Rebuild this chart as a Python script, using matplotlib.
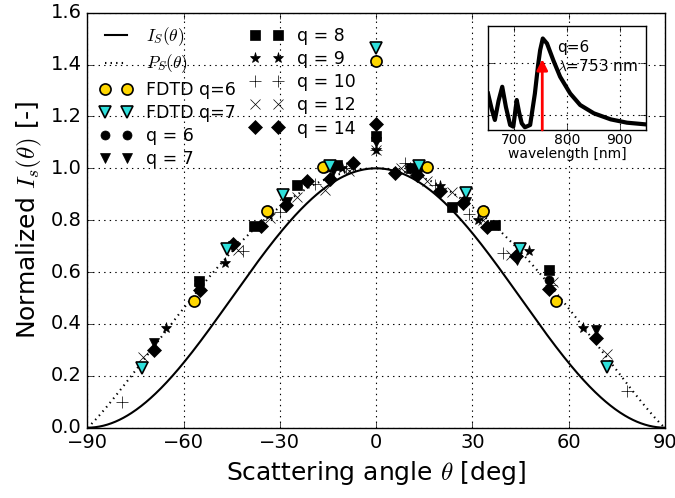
import numpy as np
import matplotlib
matplotlib.use('Agg')
import matplotlib.pyplot as plt
from matplotlib.ticker import FormatStrFormatter

plt.style.use('classic')

# ---- measured points (angle in deg, normalized intensity) ----
fdtd6_th = [-56.9, -34.0, -16.6, 0.0, 15.8, 33.2, 56.0]
fdtd6_v = [0.49, 0.835, 1.005, 1.415, 1.005, 0.835, 0.49]

fdtd7_th = [-73.0, -46.4, -29.0, -14.3, 0.0, 13.3, 27.9, 44.8, 72.0]
fdtd7_v = [0.23, 0.689, 0.899, 1.009, 1.463, 1.009, 0.904, 0.688, 0.233]

q6_th = [-55.3, -33.6, -15.8, 0.0, 15.8, 33.6, 54.0]
q6_v = [0.555, 0.84, 1.0, 1.115, 1.0, 0.84, 0.569]

q7_th = [-69.2, -44.6, -27.9, -13.5, 0.0, 13.5, 27.9, 43.8, 68.4]
q7_v = [0.328, 0.70, 0.87, 0.99, 1.10, 0.985, 0.87, 0.647, 0.377]

q8_th = [-55.3, -38.2, -24.5, -12.2, 0.0, 10.8, 23.6, 37.1, 54.0]
q8_v = [0.565, 0.778, 0.935, 1.013, 1.124, 1.0, 0.852, 0.781, 0.608]

q9_th = [-65.5, -47.0, -33.5, -21.5, -10.6, 0.0, 10.6, 19.9, 31.9, 47.5, 64.6]
q9_v = [0.386, 0.634, 0.82, 0.95, 1.0, 1.07, 1.0, 0.93, 0.80, 0.68, 0.386]

q10_th = [-79.2, -41.5, -30.0, -19.0, -9.4, 0.0, 9.0, 18.4, 28.8, 39.6, 54.6, 78.3]
q10_v = [0.10, 0.681, 0.83, 0.938, 1.0, 1.07, 1.022, 0.936, 0.823, 0.672, 0.55, 0.143]

q12_th = [-72.7, -55.2, -42.9, -33.2, -24.5, -15.9, -8.5, 0.0, 7.9, 15.9,
          23.6, 33.2, 42.0, 55.2, 71.9]
q12_v = [0.274, 0.55, 0.685, 0.81, 0.89, 0.916, 0.99, 1.07, 1.0, 0.95,
         0.91, 0.80, 0.665, 0.56, 0.284]

q14_th = [-69.1, -55.0, -44.7, -35.8, -28.0, -21.4, -14.3, -7.1, 0.0, 5.9,
          12.7, 19.9, 27.2, 34.7, 43.6, 54.0, 68.4]
q14_v = [0.298, 0.53, 0.707, 0.778, 0.86, 0.951, 0.958, 1.019, 1.171, 0.983,
         0.974, 0.912, 0.865, 0.773, 0.662, 0.533, 0.345]

# ---- inset spectrum (q=6) ----
wl = [650, 657, 663, 670, 677, 684, 692, 698, 704.5, 709, 714, 720, 730,
      739, 745, 749, 754, 762, 774, 787, 806, 825, 851, 883, 914, 949]
spec = [0.35, 0.20, 0.096, 0.28, 0.415, 0.22, 0.048, 0.032, 0.288, 0.17,
        0.064, 0.026, 0.048, 0.35, 0.62, 0.767, 0.879, 0.831, 0.67, 0.511,
        0.351, 0.24, 0.16, 0.102, 0.07, 0.054]
peak_wl = 753

# theory curves
theta = np.linspace(-90, 90, 721)
I_S = np.cos(np.radians(theta)) ** 2
P_S = np.abs(np.cos(np.radians(theta))) ** 1.12

fig = plt.figure(figsize=(6.75, 4.98), dpi=100, facecolor='white')
ax = fig.add_axes([0.1293, 0.1412, 0.8558, 0.8333])

ax.plot(theta, I_S, 'k-', lw=1.5, label=r'$I_S(\theta)$')
ax.plot(theta, P_S, 'k:', lw=1.5, label=r'$P_S(\theta)$')
ax.plot(fdtd6_th, fdtd6_v, ls='none', marker='o', ms=8, mfc='#FFD700',
        mec='k', mew=1.2, label='FDTD q=6', zorder=6)
ax.plot(fdtd7_th, fdtd7_v, ls='none', marker='v', ms=8, mfc='#2FE0DC',
        mec='k', mew=1.2, label='FDTD q=7', zorder=6)
blk = dict(ls='none', color='k', mfc='k', mec='k', mew=0.5)
ax.plot(q6_th, q6_v, marker='o', ms=6.5, label='q = 6', **blk)
ax.plot(q7_th, q7_v, marker='v', ms=7, label='q = 7', **blk)
ax.plot(q8_th, q8_v, marker='s', ms=7, label='q = 8', **blk)
ax.plot(q9_th, q9_v, marker='*', ms=8, label='q = 9', **blk)
ax.plot(q10_th, q10_v, marker='+', ms=8, label='q = 10', **blk)
ax.plot(q12_th, q12_v, marker='x', ms=7, label='q = 12', **blk)
ax.plot(q14_th, q14_v, marker='D', ms=7, label='q = 14', **blk)

ax.set_xlim(-90, 90)
ax.set_ylim(0, 1.6)
ax.set_xticks(range(-90, 91, 30))
ax.set_yticks(np.arange(0, 1.61, 0.2))
ax.yaxis.set_major_formatter(FormatStrFormatter('%.1f'))
ax.tick_params(labelsize=14)
ax.grid(True, color='k', linestyle=':', lw=0.8)
ax.set_xlabel(r'Scattering angle $\theta$ [deg]', fontsize=18)
ax.set_ylabel(r'Normalized $I_s(\theta)$ [-]', fontsize=18)
ax.legend(loc='upper left', ncol=2, frameon=False, fontsize=12.5, numpoints=2,
          handlelength=1.9, handletextpad=0.8, columnspacing=0.8,
          labelspacing=0.3, borderaxespad=0.3)

# inset
axin = fig.add_axes([0.723, 0.739, 0.234, 0.209])
axin.plot(wl, spec, 'k-', lw=3)
axin.annotate('', xy=(peak_wl, 0.68), xytext=(peak_wl, 0.0),
              arrowprops=dict(arrowstyle='-|>', color='red', lw=2,
                              mutation_scale=16, shrinkA=0, shrinkB=0))
axin.text(781, 0.86, 'q=6\n$\\lambda$=753 nm', fontsize=11, va='top',
          ha='left', linespacing=1.2)
axin.set_xlim(650, 950)
axin.set_ylim(0, 1.0)
axin.set_xticks([700, 800, 900])
axin.set_yticks([0.145, 0.645])
axin.set_yticklabels([])
axin.tick_params(labelsize=10, pad=2)
axin.grid(True, color='k', linestyle=':', lw=0.8)
axin.set_xlabel('wavelength [nm]', fontsize=10, labelpad=0)

fig.savefig('out.png', dpi=100, facecolor='white')
